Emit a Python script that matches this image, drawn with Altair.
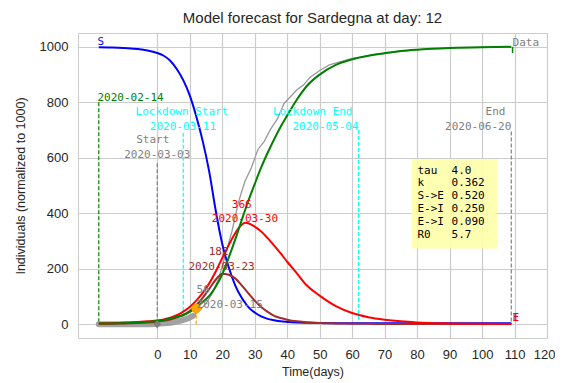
import altair as alt
import pandas as pd

# ---- model curves (days since 2020-03-03) ----
days = [-18, -15, -12, -9, -6, -3, 0, 2, 4, 6, 8, 10, 12, 14, 16, 18, 20, 22, 24, 26, 27, 28,
        30, 32, 34, 36, 38, 40, 43, 46, 50, 55, 60, 65, 70, 75, 80, 90, 100, 109]
s_vals = [999, 998, 997, 995, 992, 987, 978, 968, 950, 920, 880, 825, 750, 660, 550, 410, 290, 205,
          140, 95, 78, 62, 42, 28, 19, 14, 10, 8, 6, 5, 4, 3.5, 3, 3, 3, 3, 3, 3, 3, 3]
e_vals = [1, 1.5, 2, 3, 4, 6, 9, 12, 17, 24, 33, 47, 68, 95, 127, 160, 182, 178, 165, 140, 126, 112,
          85, 62, 44, 30, 22, 16, 10, 7, 4, 2.5, 1.5, 1, 0.7, 0.5, 0.4, 0.2, 0.1, 0.1]
i_vals = [2, 3, 4, 5.5, 7.5, 10, 13, 17, 23, 32, 45, 62, 85, 113, 147, 190, 238, 285, 328, 358, 366, 364,
          352, 334, 310, 283, 255, 225, 183, 140, 103, 65, 40, 25, 16, 10, 6, 2.5, 1, 0.5]
r_vals = [2, 2.5, 3, 4, 6, 8, 11, 15, 20, 26, 33, 44, 60, 80, 102, 135, 180, 240, 305, 375, 410, 443,
          505, 565, 618, 667, 712, 752, 810, 858, 900, 935, 955, 968, 977, 985, 990, 996, 999, 1000]

# ---- observed data ----
fit_days = list(range(-18, 12))
fit_vals = [0, 0, 0, 0, 0, 0, 0, 0, 0, 0, 0, 0, 0, 0, 0, 0, 0, 0.5,
            1, 2, 3, 4, 5, 7, 9, 12, 15, 19, 24, 30]
obs_days = [11, 13, 15, 17, 19, 21, 23, 25, 27, 29, 31, 33, 35, 37, 39, 41, 43, 45, 47, 50,
            53, 56, 60, 65, 70, 80, 90, 100, 109]
obs_vals = [30, 48, 75, 112, 168, 250, 335, 440, 515, 565, 630, 660, 705, 740, 795, 820, 845, 862,
            890, 915, 935, 945, 958, 968, 977, 990, 996, 999, 1000]

current_day = [12]
current_val = [56]

# ---- ticks ----
x_ticks = list(range(0, 130, 10))
y_ticks = list(range(0, 1200, 200))

# ---- event lines ----
ev_day = [-18, 0, 8, 62, 109]
ev_top = [800, 580, 690, 700, 695]
ev_bot = [0, -15, 0, 0, 0]
ev_col = ["green", "grey", "cyan", "cyan", "grey"]

# ---- text annotations ----
lab_text = ["2020-02-14", "Lockdown Start", "2020-03-11", "Start", "2020-03-03",
            "Lockdown End", "2020-05-04", "End", "2020-06-20",
            "366", "2020-03-30", "182", "2020-03-23", "56", "2020-03-15", "S", "Data", "E", "I"]
lab_x = [-18.4, 7.6, 7.9, -1.4, 0, 60.1, 62, 107.2, 109,
         26.0, 27, 18.9, 19.8, 12.1, 12.1, -18.4, 109.4, 109.4, 109.4]
lab_y = [816, 765, 711, 665, 611, 765, 711, 765, 711,
         431, 380, 259, 206, 122, 69, 1017, 1013, 21, 21]
lab_align = ["left", "center", "center", "center", "center", "right", "right", "right", "right",
             "center", "center", "center", "center", "left", "left", "left", "left", "left", "left"]
lab_color = ["green", "cyan", "cyan", "grey", "grey", "cyan", "cyan", "grey", "grey",
             "red", "red", "brown", "brown", "grey", "grey", "blue", "grey", "brown", "red"]

# ---- parameter table ----
par_names = ["tau", "k", "S->E", "E->I", "E->I", "R0"]
par_vals = ["4.0", "0.362", "0.520", "0.250", "0.090", "5.7"]
par_rows = [554, 508, 461, 414, 367, 320]
box = {"x": 78.3, "x2": 104.6, "y": 273, "y2": 596}

X_MIN, X_MAX = -24.4, 120
Y_MIN, Y_MAX = -50, 1050
GRID_COLOR = "#cccccc"

AX = dict(domain=False, ticks=False, grid=True, gridColor=GRID_COLOR, gridWidth=1.2, gridOpacity=1,
          labelFont="Liberation Sans", labelFontSize=13, labelColor="#262626",
          titleFont="Liberation Sans", titleFontSize=12.5, titleFontWeight="normal",
          titleColor="#262626")
xs = alt.Scale(domain=[X_MIN, X_MAX], nice=False, zero=False)
ys = alt.Scale(domain=[Y_MIN, Y_MAX], nice=False, zero=False)
X = alt.X("x:Q", scale=xs, title="Time(days)",
          axis=alt.Axis(values=x_ticks, format="d", labelFlush=True, labelFlushOffset=8,
                        labelOverlap=False, labelPadding=10, titlePadding=4, **AX))
Y = alt.Y("y:Q", scale=ys, title="Individuals (normalized to 1000)",
          axis=alt.Axis(values=y_ticks, format="d", labelPadding=10, titlePadding=12, **AX))
MONO = "DejaVu Sans Mono"

ev_df = pd.DataFrame({"x": ev_day, "y": ev_top, "y2": ev_bot, "c": ev_col})
events = alt.Chart(ev_df).mark_rule(strokeDash=[4, 2], strokeWidth=1.2).encode(
    x=X, y=Y, y2="y2:Q", color=alt.Color("c:N", scale=None))

orange_rule = alt.Chart(pd.DataFrame({"x": current_day, "y": current_val, "y2": [0]})).mark_rule(
    strokeDash=[4, 2], color="orange", strokeWidth=1.2).encode(x=X, y=Y, y2="y2:Q")

box_df = pd.DataFrame([box])
box_mark = alt.Chart(box_df).mark_rect(color="#ffffaa", opacity=0.9).encode(
    x=X, x2="x2:Q", y=Y, y2="y2:Q")

fit = alt.Chart(pd.DataFrame({"x": fit_days, "y": fit_vals})).mark_line(
    color="#999999", strokeWidth=6, strokeCap="round", opacity=0.9).encode(x=X, y=Y)
obs = alt.Chart(pd.DataFrame({"x": obs_days, "y": obs_vals})).mark_line(
    color="#999999", strokeWidth=1.3).encode(x=X, y=Y)


def curve(vals, col):
    return alt.Chart(pd.DataFrame({"x": days, "y": vals})).mark_line(
        color=col, strokeWidth=2, interpolate="monotone").encode(x=X, y=Y)


s_line = curve(s_vals, "blue")
e_line = curve(e_vals, "brown")
i_line = curve(i_vals, "red")
r_line = curve(r_vals, "green")

end_tick = alt.Chart(pd.DataFrame({"x": [109.4], "y": [1000], "y2": [978]})).mark_rule(
    color="green", strokeWidth=1.5).encode(x=X, y=Y, y2="y2:Q")

diamond = alt.Chart(pd.DataFrame({"x": [0], "y": [0]})).mark_point(
    shape="diamond", filled=True, color="grey", size=60, opacity=1).encode(x=X, y=Y)
dot = alt.Chart(pd.DataFrame({"x": current_day, "y": current_val})).mark_circle(
    color="orange", size=90, opacity=1).encode(x=X, y=Y)

lab_df = pd.DataFrame({"x": lab_x, "y": lab_y, "t": lab_text, "a": lab_align, "c": lab_color})
texts = []
for al in ["left", "center", "right"]:
    texts.append(alt.Chart(lab_df[lab_df.a == al]).mark_text(
        font=MONO, fontSize=11, align=al, baseline="middle").encode(
        x=X, y=Y, text="t:N", color=alt.Color("c:N", scale=None)))

tab1 = alt.Chart(pd.DataFrame({"x": [80.1] * 6, "y": par_rows, "t": par_names})).mark_text(
    font=MONO, fontSize=11, align="left", baseline="middle", color="black").encode(x=X, y=Y, text="t:N")
tab2 = alt.Chart(pd.DataFrame({"x": [90.6] * 6, "y": par_rows, "t": par_vals})).mark_text(
    font=MONO, fontSize=11, align="left", baseline="middle", color="black").encode(x=X, y=Y, text="t:N")

chart = alt.layer(
    events, orange_rule, box_mark, fit, obs, s_line, e_line, i_line, r_line,
    end_tick, diamond, dot, *texts, tab1, tab2
).properties(
    width=469, height=305,
    title=alt.TitleParams("Model forecast for Sardegna at day: 12", fontSize=15,
                          font="Liberation Sans", fontWeight="normal", color="#262626", offset=7),
    autosize=alt.AutoSizeParams(type="none"),
    padding={"left": 70, "top": 25, "right": 8, "bottom": 44},
).configure_view(
    stroke=GRID_COLOR, strokeWidth=1
)

chart.save("out.html", embed_options={"renderer": "svg", "actions": False})
